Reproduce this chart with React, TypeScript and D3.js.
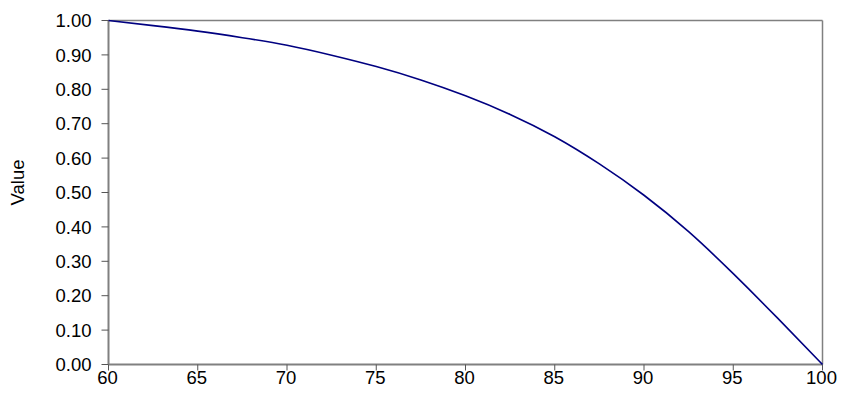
import React from "react";
import * as d3 from "d3";

const xValues = [60, 62.5, 65, 67.5, 70, 72.5, 75, 77.5, 80, 82.5, 85, 87.5, 90, 92.5, 95, 97.5, 100];
const yValues = [1.0, 0.985, 0.969, 0.95, 0.928, 0.899, 0.866, 0.827, 0.781, 0.727, 0.662, 0.583, 0.492, 0.386, 0.264, 0.134, 0.0];
const xTicks = [60, 65, 70, 75, 80, 85, 90, 95, 100];
const yTicks = [0, 0.1, 0.2, 0.3, 0.4, 0.5, 0.6, 0.7, 0.8, 0.9, 1.0];
const yLabel = "Value";

const W = 848;
const H = 405;
const M = { left: 108.5, right: 25.5, top: 20.5, bottom: 40.5 };

export default function App() {
  const x = d3.scaleLinear().domain([60, 100]).range([M.left, W - M.right]);
  const y = d3.scaleLinear().domain([0, 1]).range([H - M.bottom, M.top]);
  const data = xValues.map((v, i) => [v, yValues[i]] as [number, number]);
  const line = d3
    .line<[number, number]>()
    .x((d) => x(d[0]))
    .y((d) => y(d[1]))
    .curve(d3.curveNatural);
  const font = "'Liberation Sans', Arial, sans-serif";
  const x0 = M.left;
  const x1 = W - M.right;
  const y0 = H - M.bottom;
  const y1 = M.top;
  const fs = 18.5;
  return (
    <svg
      width={W}
      height={H}
      style={{ position: "absolute", left: 0, top: 0, background: "#fff" }}
      fontFamily={font}
    >
      <rect x={0} y={0} width={W} height={H} fill="#fff" />
      <line x1={x0} x2={x1} y1={y1} y2={y1} stroke="#808080" strokeWidth={1.5} />
      <line x1={x1} x2={x1} y1={y1} y2={y0} stroke="#808080" strokeWidth={1.5} />
      <line x1={x0} x2={x0} y1={y1} y2={y0} stroke="#808080" strokeWidth={2} />
      <line x1={x0} x2={x1} y1={y0} y2={y0} stroke="#808080" strokeWidth={2} />
      {yTicks.map((t) => (
        <g key={"y" + t}>
          <line x1={x0 - 7} x2={x0} y1={y(t)} y2={y(t)} stroke="#555" strokeWidth={1} />
          <text
            x={x0 - 17}
            y={y(t)}
            dy="0.36em"
            textAnchor="end"
            fontSize={fs}
            fill="#000"
          >
            {d3.format(".2f")(t)}
          </text>
        </g>
      ))}
      {xTicks.map((t) => (
        <g key={"x" + t}>
          <line x1={x(t)} x2={x(t)} y1={y0} y2={y0 + 6} stroke="#555" strokeWidth={1} />
          <text x={x(t) - 1} y={y0 + 19} textAnchor="middle" fontSize={fs} fill="#000">
            {t}
          </text>
        </g>
      ))}
      <text
        transform={`translate(24, ${(y0 + y1) / 2 - 10}) rotate(-90)`}
        textAnchor="middle"
        fontSize={fs}
        fill="#000"
      >
        {yLabel}
      </text>
      <path d={line(data) || ""} fill="none" stroke="#000080" strokeWidth={1.6} />
    </svg>
  );
}
